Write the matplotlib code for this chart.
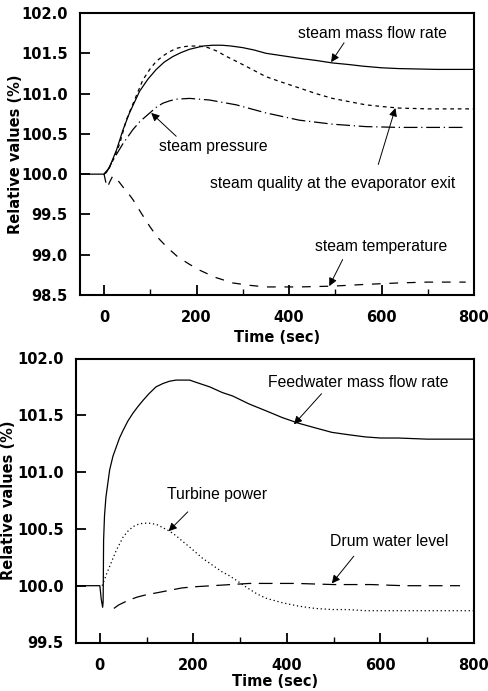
import numpy as np
import matplotlib
matplotlib.use('Agg')
import matplotlib.pyplot as plt

# --- top panel: steam side ---
t_smf = [-52, 0, 5, 12, 27, 41, 55, 77, 95, 113, 130, 149, 167, 185, 214, 235, 255, 275, 300, 325, 350, 385,
         420, 460, 494, 530, 560, 600, 638, 720, 800]
v_smf = [100, 100, 100.02, 100.09, 100.30, 100.55, 100.76, 101.03, 101.18, 101.30, 101.39, 101.46, 101.51, 101.55,
         101.59, 101.60, 101.60, 101.59, 101.57, 101.54, 101.50, 101.47, 101.44, 101.41, 101.38, 101.36, 101.34,
         101.32, 101.31, 101.30, 101.30]

t_qual = [0, 9, 20, 34, 48, 63, 84, 100, 113, 128, 142, 156, 170, 185, 206, 225, 243, 265, 293, 320, 350, 385,
          422, 458, 494, 530, 566, 600, 638, 700, 800]
v_qual = [100, 100.05, 100.18, 100.38, 100.67, 100.88, 101.17, 101.31, 101.40, 101.47, 101.52, 101.56, 101.58,
          101.59, 101.59, 101.57, 101.53, 101.46, 101.38, 101.30, 101.21, 101.14, 101.07, 101.00, 100.94, 100.90,
          100.86, 100.84, 100.82, 100.81, 100.81]

t_pres = [0, 10, 20, 40, 62, 77, 99, 113, 127, 142, 156, 185, 228, 286, 350, 422, 494, 566, 638, 700, 782]
v_pres = [100, 100.07, 100.18, 100.37, 100.55, 100.65, 100.76, 100.83, 100.88, 100.91, 100.93, 100.94, 100.92,
          100.86, 100.76, 100.67, 100.62, 100.59, 100.58, 100.58, 100.58]

t_temp = [0, 3, 7, 12, 19, 25, 33, 41, 50, 63, 80, 99, 115, 135, 160, 185, 206, 240, 278, 315, 350, 422, 494,
          560, 638, 700, 782]
v_temp = [100, 99.92, 99.83, 99.90, 99.98, 99.95, 99.90, 99.84, 99.78, 99.68, 99.52, 99.35, 99.22, 99.10, 98.97,
          98.88, 98.81, 98.72, 98.65, 98.62, 98.60, 98.60, 98.61, 98.63, 98.65, 98.66, 98.66]

# --- bottom panel: feedwater / turbine / drum ---
t_fw = [-51, 0, 3, 6, 7, 7.5, 8, 10, 13, 17, 21, 28, 35, 42, 50, 60, 71, 82, 92, 105, 120, 135, 149, 163, 177,
        192, 206, 235, 262, 284, 319, 355, 390, 425, 460, 496, 530, 567, 600, 638, 700, 800]
v_fw = [100, 100, 99.88, 99.81, 99.86, 100.1, 100.4, 100.62, 100.78, 100.9, 101.02, 101.14, 101.22, 101.30,
        101.37, 101.45, 101.52, 101.58, 101.63, 101.69, 101.75, 101.78, 101.80, 101.81, 101.81, 101.81, 101.79,
        101.75, 101.70, 101.67, 101.60, 101.54, 101.48, 101.43, 101.39, 101.35, 101.33, 101.31, 101.30, 101.30,
        101.29, 101.29]

t_turb = [5, 14, 25, 35, 50, 60, 71, 82, 92, 106, 121, 135, 149, 163, 177, 192, 206, 220, 234, 248, 262, 276,
          291, 312, 335, 355, 390, 425, 460, 496, 530, 567, 650, 800]
v_turb = [100, 100.10, 100.21, 100.31, 100.43, 100.48, 100.52, 100.54, 100.55, 100.55, 100.54, 100.51, 100.48,
          100.44, 100.39, 100.34, 100.29, 100.24, 100.20, 100.16, 100.12, 100.09, 100.05, 99.99, 99.93, 99.89,
          99.85, 99.82, 99.80, 99.79, 99.79, 99.78, 99.78, 99.78]

t_drum = [30, 40, 60, 80, 99, 125, 150, 175, 200, 240, 280, 320, 355, 420, 500, 580, 650, 770]
v_drum = [99.80, 99.83, 99.87, 99.90, 99.92, 99.94, 99.96, 99.98, 99.99, 100.0, 100.01, 100.02, 100.02, 100.02,
          100.01, 100.01, 100.0, 100.0]

# labels: (text, text pos, arrow tail, arrow tip)
notes_top = [
    ('steam mass flow rate', (580, 101.75), (519, 101.63), (491, 101.39)),
    ('steam pressure', (237, 100.34), (156, 100.47), (102, 100.76)),
    ('steam quality at the evaporator exit', (494, 99.88), (593, 100.12), (630, 100.82)),
    ('steam temperature', (599, 99.10), (516, 98.94), (487, 98.61)),
]
notes_bot = [
    ('Feedwater mass flow rate', (553, 101.79), (474, 101.69), (415, 101.42)),
    ('Turbine power', (250, 100.80), (188, 100.65), (147, 100.48)),
    ('Drum water level', (618, 100.39), (543, 100.26), (496, 100.02)),
]

lw = 0.9
fig = plt.figure(figsize=(4.89, 6.91), dpi=100)
ax1 = fig.add_axes([80/489, 1-295/691, 394/489, 282/691])
ax2 = fig.add_axes([76/489, 1-642.5/691, 398/489, 284/691])

ax1.plot(t_smf, v_smf, 'k-', lw=lw)
ax1.plot(t_qual, v_qual, color='k', lw=lw, ls=(0, (3, 3)))
ax1.plot(t_pres, v_pres, color='k', lw=lw, ls=(0, (11, 3, 1, 3)))
ax1.plot(t_temp, v_temp, color='k', lw=lw, ls=(0, (7, 7)))

ax2.plot(t_fw, v_fw, 'k-', lw=lw)
ax2.plot(t_turb, v_turb, color='k', lw=lw, ls=(0, (1, 2.2)))
ax2.plot(t_drum, v_drum, color='k', lw=lw, ls=(0, (11, 6)))

for ax, notes in ((ax1, notes_top), (ax2, notes_bot)):
    for txt, pos, tail, tip in notes:
        ax.text(pos[0], pos[1], txt, ha='center', va='center', fontsize=11.3, family='Liberation Sans')
        ax.annotate('', xy=tip, xytext=tail,
                    arrowprops=dict(arrowstyle='-|>', color='k', lw=0.7, mutation_scale=12,
                                    shrinkA=0, shrinkB=0))

def style(ax, ylim, xleft, ylab_x, xlab_y):
    ax.set_xlim(xleft, 800)
    ax.set_ylim(*ylim)
    ax.set_xticks([0, 200, 400, 600, 800])
    ax.set_xticks([100, 300, 500, 700], minor=True)
    ax.set_yticks(np.arange(ylim[0], ylim[1] + 0.01, 0.5))
    ax.yaxis.set_major_formatter(matplotlib.ticker.FormatStrFormatter('%.1f'))
    ax.tick_params(which='major', direction='in', length=7, width=1.3, labelsize=10.5, pad=9)
    ax.tick_params(which='minor', direction='in', length=4, width=1.0)
    ax.tick_params(axis='x', pad=11)
    for lab in ax.get_xticklabels() + ax.get_yticklabels():
        lab.set_fontweight('bold')
    for s in ax.spines.values():
        s.set_linewidth(1.5)
    ax.set_ylabel('Relative values (%)', fontsize=10.5, fontweight='bold')
    ax.set_xlabel('Time (sec)', fontsize=10.5, fontweight='bold')
    ax.yaxis.set_label_coords(ylab_x, 0.5)
    ax.xaxis.set_label_coords(0.5, xlab_y)

style(ax1, (98.5, 102.0), -52, -0.145, -0.125)
style(ax2, (99.5, 102.0), -51, -0.15, -0.11)

fig.savefig('out.png', dpi=100)
